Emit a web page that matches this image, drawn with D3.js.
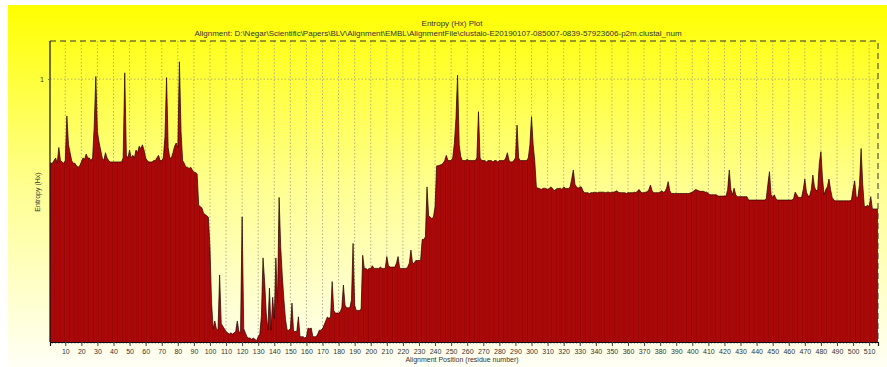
<!DOCTYPE html>
<html lang="en">
<head>
<meta charset="utf-8">
<title>Entropy (Hx) Plot</title>
<script src="https://cdnjs.cloudflare.com/ajax/libs/d3/7.8.5/d3.min.js"></script>
<style>
  html, body { margin: 0; padding: 0; background: white; }
  svg { display: block; font-family: "Liberation Sans", Arial, sans-serif; }
</style>
</head>
<body>
<script>
// entropy per alignment position (1..515)
var entropy = [
  0.68,0.68,0.69,0.70,0.68,0.74,0.69,0.685,0.68,0.69,
  0.86,0.75,0.72,0.69,0.68,0.68,0.67,0.665,0.67,0.685,
  0.70,0.695,0.715,0.70,0.70,0.69,0.70,0.82,1.01,0.80,
  0.76,0.73,0.70,0.69,0.72,0.70,0.69,0.685,0.685,0.685,
  0.685,0.685,0.685,0.685,0.685,0.70,1.024,0.71,0.70,0.73,
  0.70,0.71,0.70,0.73,0.72,0.745,0.735,0.75,0.73,0.70,
  0.69,0.685,0.685,0.685,0.69,0.69,0.70,0.71,0.69,0.69,
  0.70,0.78,1.006,0.74,0.70,0.70,0.72,0.745,0.757,0.74,
  1.066,0.80,0.69,0.68,0.665,0.665,0.66,0.665,0.655,0.645,
  0.645,0.64,0.52,0.515,0.51,0.49,0.485,0.48,0.475,0.36,
  0.148,0.05,0.08,0.05,0.045,0.255,0.07,0.06,0.05,0.04,
  0.035,0.03,0.035,0.03,0.035,0.04,0.08,0.04,0.035,0.476,
  0.05,0.035,0.02,0.015,0.015,0.01,0.015,0.01,0.005,0.02,
  0.03,0.10,0.32,0.23,0.11,0.045,0.205,0.045,0.17,0.09,
  0.32,0.15,0.55,0.36,0.25,0.16,0.085,0.045,0.045,0.05,
  0.148,0.04,0.04,0.04,0.096,0.02,0.02,0.02,0.015,0.02,
  0.053,0.05,0.053,0.02,0.02,0.02,0.03,0.045,0.045,0.05,
  0.065,0.08,0.095,0.09,0.095,0.23,0.12,0.11,0.11,0.11,
  0.115,0.13,0.217,0.14,0.13,0.13,0.13,0.16,0.375,0.14,
  0.12,0.12,0.12,0.125,0.33,0.28,0.28,0.275,0.28,0.28,
  0.29,0.28,0.28,0.28,0.28,0.285,0.28,0.28,0.28,0.325,
  0.29,0.285,0.285,0.285,0.285,0.30,0.325,0.28,0.28,0.28,
  0.28,0.28,0.285,0.30,0.35,0.30,0.30,0.31,0.31,0.31,
  0.31,0.39,0.39,0.40,0.59,0.48,0.475,0.47,0.475,0.515,
  0.67,0.67,0.673,0.675,0.68,0.69,0.71,0.69,0.69,0.69,
  0.70,0.755,0.85,1.015,0.75,0.705,0.69,0.69,0.69,0.695,
  0.69,0.69,0.69,0.69,0.69,0.70,0.876,0.70,0.69,0.69,
  0.69,0.685,0.69,0.69,0.69,0.685,0.69,0.69,0.685,0.69,
  0.69,0.69,0.69,0.70,0.72,0.69,0.685,0.685,0.69,0.70,
  0.825,0.70,0.69,0.69,0.69,0.69,0.69,0.70,0.75,0.857,
  0.75,0.69,0.59,0.585,0.584,0.58,0.584,0.585,0.584,0.58,
  0.584,0.59,0.585,0.575,0.58,0.584,0.584,0.585,0.58,0.59,
  0.585,0.584,0.584,0.59,0.62,0.654,0.60,0.59,0.585,0.59,
  0.59,0.575,0.568,0.568,0.568,0.565,0.568,0.568,0.57,0.568,
  0.568,0.57,0.57,0.57,0.57,0.568,0.57,0.57,0.568,0.57,
  0.57,0.572,0.575,0.57,0.568,0.568,0.568,0.568,0.565,0.568,
  0.568,0.568,0.568,0.57,0.568,0.575,0.58,0.57,0.568,0.568,
  0.57,0.572,0.58,0.597,0.575,0.568,0.568,0.568,0.568,0.57,
  0.575,0.57,0.572,0.585,0.61,0.575,0.565,0.565,0.565,0.565,
  0.565,0.565,0.565,0.565,0.565,0.565,0.565,0.565,0.568,0.57,
  0.575,0.58,0.578,0.575,0.573,0.573,0.573,0.57,0.57,0.565,
  0.56,0.56,0.56,0.56,0.56,0.555,0.555,0.555,0.555,0.555,
  0.555,0.58,0.654,0.58,0.56,0.585,0.56,0.553,0.553,0.553,
  0.553,0.553,0.553,0.553,0.54,0.54,0.54,0.54,0.54,0.54,
  0.54,0.54,0.54,0.54,0.54,0.545,0.60,0.648,0.56,0.55,
  0.56,0.545,0.54,0.54,0.54,0.54,0.54,0.54,0.54,0.54,
  0.54,0.54,0.545,0.57,0.56,0.55,0.55,0.55,0.58,0.62,
  0.57,0.555,0.555,0.58,0.635,0.59,0.575,0.58,0.68,0.724,
  0.62,0.56,0.58,0.59,0.62,0.58,0.55,0.54,0.537,0.537,
  0.537,0.537,0.537,0.537,0.537,0.537,0.537,0.537,0.54,0.58,
  0.613,0.55,0.55,0.60,0.736,0.60,0.515,0.515,0.52,0.515,
  0.553,0.506,0.506,0.506,0.506
];

var xTicks = [10,20,30,40,50,60,70,80,90,100,110,120,130,140,150,160,170,180,190,200,
              210,220,230,240,250,260,270,280,290,300,310,320,330,340,350,360,370,380,390,400,
              410,420,430,440,450,460,470,480,490,500,510];
var yTicks = [1];

var w = 887, h = 367;
var plotLeft = 50, plotRight = 878, plotTop = 41, plotBottom = 342;

var svg = d3.select("body").append("svg")
  .attr("width", w)
  .attr("height", h);

var defs = svg.append("defs");
var grad = defs.append("linearGradient")
  .attr("id", "bg")
  .attr("x1", 0).attr("y1", 0).attr("x2", 0).attr("y2", 1);
grad.append("stop").attr("offset", "0%").attr("stop-color", "#ffff00");
grad.append("stop").attr("offset", "50%").attr("stop-color", "#ffff90");
grad.append("stop").attr("offset", "100%").attr("stop-color", "#fffff6");

svg.append("rect")
  .attr("x", 8).attr("y", 5)
  .attr("width", w - 8).attr("height", h - 5)
  .attr("fill", "url(#bg)");

var x = d3.scaleLinear().domain([0.5, 515.5]).range([plotLeft, plotRight]);
var y = d3.scaleLinear().domain([0, 1.145]).range([plotBottom, plotTop]);

// grid
svg.append("g").selectAll("line")
  .data(xTicks)
  .enter().append("line")
  .attr("x1", function(d) { return x(d); })
  .attr("x2", function(d) { return x(d); })
  .attr("y1", plotTop).attr("y2", plotBottom)
  .attr("stroke", "#a0a080")
  .attr("stroke-width", 0.8)
  .attr("stroke-dasharray", "1.5,2");

svg.append("g").selectAll("line")
  .data(yTicks)
  .enter().append("line")
  .attr("x1", plotLeft).attr("x2", plotRight)
  .attr("y1", function(d) { return y(d); })
  .attr("y2", function(d) { return y(d); })
  .attr("stroke", "#a0a080")
  .attr("stroke-width", 0.8)
  .attr("stroke-dasharray", "1.5,2");

// filled profile through bar centres, first and last bars held flat to the frame
var prof = entropy.map(function(d, i) { return [i + 1, d]; });
prof.unshift([0.5, entropy[0]]);
prof.push([515.5, entropy[entropy.length - 1]]);

var area = d3.area()
  .x(function(d) { return x(d[0]); })
  .y0(plotBottom)
  .y1(function(d) { return y(d[1]); });

svg.append("clipPath").attr("id", "profClip")
  .append("path").attr("d", area(prof));

svg.append("path")
  .attr("d", area(prof))
  .attr("fill", "#b30b0b");

// bar stripes
svg.append("g")
  .attr("clip-path", "url(#profClip)")
  .selectAll("line")
  .data(entropy)
  .enter().append("line")
  .attr("x1", function(d, i) { return x(i + 0.5); })
  .attr("x2", function(d, i) { return x(i + 0.5); })
  .attr("y1", function(d) { return y(d); })
  .attr("y2", plotBottom)
  .attr("stroke", function(d, i) { return i % 3 === 0 ? "#7a0404" : "#950707"; })
  .attr("stroke-width", 0.5);

var line = d3.line()
  .x(function(d) { return x(d[0]); })
  .y(function(d) { return y(d[1]); });
svg.append("path")
  .attr("d", line(prof))
  .attr("fill", "none")
  .attr("stroke", "#220000")
  .attr("stroke-width", 0.7);

// frame: dashed top and right
svg.append("path")
  .attr("d", "M" + plotLeft + "," + plotTop + "H" + plotRight + "V" + plotBottom)
  .attr("fill", "none")
  .attr("stroke", "#333")
  .attr("stroke-width", 1)
  .attr("stroke-dasharray", "6,4");

svg.append("line")
  .attr("x1", plotLeft).attr("x2", plotLeft)
  .attr("y1", plotTop).attr("y2", plotBottom)
  .attr("stroke", "#111").attr("stroke-width", 1.2);

// x axis
var minor = d3.range(2, 516, 2);
svg.append("g").selectAll("line")
  .data(minor)
  .enter().append("line")
  .attr("x1", function(d) { return x(d); })
  .attr("x2", function(d) { return x(d); })
  .attr("y1", plotBottom).attr("y2", plotBottom + 2)
  .attr("stroke", "#777").attr("stroke-width", 0.6);

var xAxis = d3.axisBottom(x).tickValues(xTicks).tickSize(4).tickPadding(3);
var gx = svg.append("g")
  .attr("transform", "translate(0," + plotBottom + ")")
  .call(xAxis);
gx.select(".domain").attr("stroke", "#111").attr("stroke-width", 1.2);
gx.selectAll(".tick line").attr("stroke", "#444");
gx.selectAll("text").attr("font-size", 7).attr("fill", "#333")
  .attr("font-family", "'Liberation Sans', Arial, sans-serif");

var yAxis = d3.axisLeft(y).tickValues(yTicks).tickSize(2).tickPadding(4)
  .tickFormat(d3.format("d"));
var gy = svg.append("g")
  .attr("transform", "translate(" + plotLeft + ",0)")
  .call(yAxis);
gy.select(".domain").remove();
gy.selectAll(".tick line").attr("stroke", "#777");
gy.selectAll("text").attr("font-size", 7).attr("fill", "#333")
  .attr("font-family", "'Liberation Sans', Arial, sans-serif");

// titles
svg.append("text")
  .attr("x", 452).attr("y", 25.5)
  .attr("text-anchor", "middle")
  .attr("font-size", 8).attr("fill", "#333")
  .text("Entropy (Hx) Plot");

svg.append("text")
  .attr("x", 438).attr("y", 36)
  .attr("text-anchor", "middle")
  .attr("font-size", 8).attr("fill", "#333")
  .text("Alignment: D:\\Negar\\Scientific\\Papers\\BLV\\Alignment\\EMBL\\AlignmentFile\\clustalo-E20190107-085007-0839-57923606-p2m.clustal_num");

svg.append("text")
  .attr("x", 462).attr("y", 362)
  .attr("text-anchor", "middle")
  .attr("font-size", 7).attr("fill", "#333")
  .text("Alignment Position (residue number)");

svg.append("text")
  .attr("transform", "translate(40,192) rotate(-90)")
  .attr("text-anchor", "middle")
  .attr("font-size", 7).attr("fill", "#333")
  .text("Entropy (Hx)");
</script>
</body>
</html>
